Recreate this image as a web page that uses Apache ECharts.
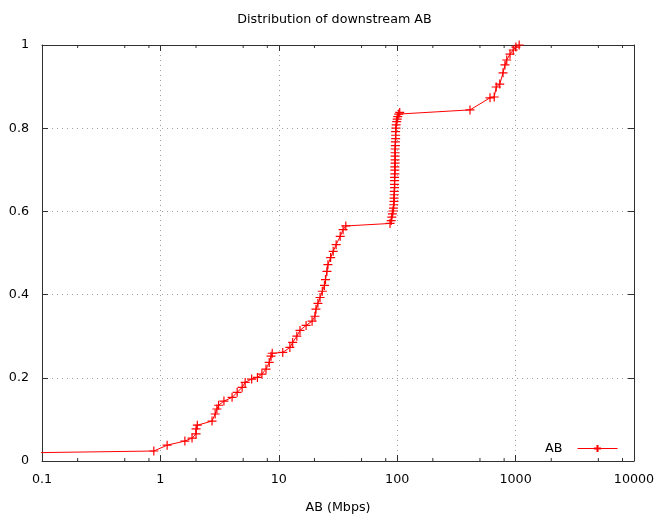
<!DOCTYPE html>
<html>
<head>
<meta charset="utf-8">
<script src="https://cdn.jsdelivr.net/npm/echarts@6/dist/echarts.min.js"></script>
<style>html,body{margin:0;padding:0;background:#fff}#c{width:669px;height:519px}</style>
</head>
<body>
<div id="c"></div>
<script>
// CDF of downstream AB (Mbps)
const abValues = [0.05, 0.88, 1.14, 1.61, 1.85, 2.0, 2.0, 2.05, 2.73, 2.9, 3.0, 3.1, 3.44, 4.03, 4.45, 4.9, 5.2, 5.9, 6.6, 7.2, 7.8, 8.3, 8.6, 8.8,
  10.8, 12.4, 13.1, 14.2, 15.1, 17.0, 19.1, 20.2, 20.6, 21.4, 22.3, 23.3, 24.3, 24.8, 25.5, 26.0, 27.4, 28.8, 30.5, 33.0, 34.9, 36.8,
  87, 89, 90, 91, 92, 93, 93.5, 94, 94, 94.5, 94.5, 95, 95, 95, 95, 95.5, 95.5, 95.5, 96, 96, 96, 96, 96, 96.5, 96.5, 97, 97, 97, 97.5, 98, 99, 100, 101, 103, 105,
  412, 608, 660, 686, 735, 783, 813, 842, 897, 955, 1006, 1072];
const cdfValues = [0.019, 0.024, 0.038, 0.048, 0.055, 0.065, 0.077, 0.086, 0.096, 0.113, 0.125, 0.134, 0.144, 0.153, 0.165, 0.177, 0.189, 0.197, 0.201, 0.209, 0.221, 0.237, 0.252, 0.259,
  0.261, 0.273, 0.285, 0.300, 0.314, 0.326, 0.336, 0.348, 0.365, 0.379, 0.393, 0.408, 0.422, 0.436, 0.456, 0.472, 0.489, 0.504, 0.520, 0.540, 0.556, 0.565,
  0.571, 0.578, 0.586, 0.594, 0.601, 0.608, 0.616, 0.624, 0.632, 0.640, 0.648, 0.657, 0.665, 0.674, 0.682, 0.690, 0.699, 0.707, 0.716, 0.724, 0.733, 0.741, 0.750, 0.758, 0.767, 0.775, 0.783, 0.792, 0.800, 0.808, 0.816, 0.822, 0.828, 0.834, 0.838,
  0.844, 0.873, 0.875, 0.899, 0.906, 0.933, 0.952, 0.964, 0.978, 0.988, 0.995, 1.0];
const xTickLabels = ['0.1', '1', '10', '100', '1000', '10000'];
const yTickLabels = ['0', '0.2', '0.4', '0.6', '0.8', '1'];
const minorTickValues = [0.2, 0.5, 0.8, 2, 5, 8, 20, 50, 80, 200, 500, 800, 2000, 5000, 8000];

const FONT = 'DejaVu Sans';
const FS = 12.7;
const AXIS_COLOR = '#303030';
const plusPath = 'path://M0,-5L0,5M-5,0L5,0';

const chart = echarts.init(document.getElementById('c'), null, {renderer: 'canvas'});
const seriesData = abValues.map((v, i) => [v, cdfValues[i]]);

const baseX = {
  type: 'log', logBase: 10, min: 0.1, max: 10000,
  axisLine: {show: true, onZero: false, lineStyle: {color: AXIS_COLOR, width: 1}},
  axisTick: {show: true, inside: true, length: 6, lineStyle: {color: AXIS_COLOR}},
  splitLine: {show: false},
  minorTick: {show: false}
};
const baseY = {
  type: 'value', min: 0, max: 1, interval: 0.2,
  axisLine: {show: true, onZero: false, lineStyle: {color: AXIS_COLOR, width: 1}},
  axisTick: {show: true, inside: true, length: 6, lineStyle: {color: AXIS_COLOR}},
  splitLine: {show: false}
};

chart.setOption({
  animation: false,
  backgroundColor: '#ffffff',
  title: {
    text: 'Distribution of downstream AB', left: 'center', top: 8,
    textStyle: {fontFamily: FONT, fontSize: FS, fontWeight: 'normal', color: '#000'}
  },
  grid: {left: 42, right: 35, top: 45, bottom: 57, containLabel: false},
  legend: {
    right: 51, top: 442, align: 'right', padding: 0, itemWidth: 40, itemHeight: 9, itemGap: 10,
    textStyle: {fontFamily: FONT, fontSize: FS, color: '#000', padding: [0, 10, 0, 0]},
    lineStyle: {width: 1},
    data: [{name: 'AB'}]
  },
  xAxis: [
    Object.assign({}, baseX, {
      position: 'bottom', name: 'AB (Mbps)', nameLocation: 'middle', nameGap: 40,
      nameTextStyle: {fontFamily: FONT, fontSize: FS, color: '#000'},
      axisLabel: {show: true, margin: 12, fontFamily: FONT, fontSize: FS, color: '#000',
        formatter: (v) => { const i = Math.round(Math.log10(v)) + 1; return xTickLabels[i] !== undefined ? xTickLabels[i] : ''; }},
      splitLine: {show: true, lineStyle: {color: '#a0a0a0', type: [1, 4], width: 1}}
    }),
    Object.assign({}, baseX, {position: 'top', axisLabel: {show: false}})
  ],
  yAxis: [
    Object.assign({}, baseY, {
      position: 'left',
      axisLabel: {show: true, margin: 13, fontFamily: FONT, fontSize: FS, color: '#000',
        formatter: (v) => { const i = Math.round(v * 5); return yTickLabels[i] !== undefined ? yTickLabels[i] : ''; }},
      splitLine: {show: true, lineStyle: {color: '#a0a0a0', type: [1, 4], width: 1}}
    }),
    Object.assign({}, baseY, {position: 'right', axisLabel: {show: false}})
  ],
  series: [
    {
      name: 'AB', type: 'line', xAxisIndex: 0, yAxisIndex: 0,
      data: seriesData, clip: true,
      symbol: plusPath, symbolSize: 9, showAllSymbol: true,
      lineStyle: {color: '#ff0000', width: 1},
      itemStyle: {color: '#ff0000', borderColor: '#ff0000', borderWidth: 1.2},
      emphasis: {disabled: true}
    },
    {
      name: 'minorTicks', type: 'custom', xAxisIndex: 0, yAxisIndex: 0, silent: true,
      data: minorTickValues.map(v => [v]),
      renderItem: (params, api) => {
        const v = api.value(0);
        const b = api.coord([v, 0]);
        const t = api.coord([v, 1]);
        const style = {stroke: AXIS_COLOR, lineWidth: 1};
        return {type: 'group', children: [
          {type: 'line', shape: {x1: b[0], y1: b[1], x2: b[0], y2: b[1] - 3}, style},
          {type: 'line', shape: {x1: t[0], y1: t[1], x2: t[0], y2: t[1] + 3}, style}
        ]};
      },
      z: 1
    }
  ]
});
</script>
</body>
</html>
